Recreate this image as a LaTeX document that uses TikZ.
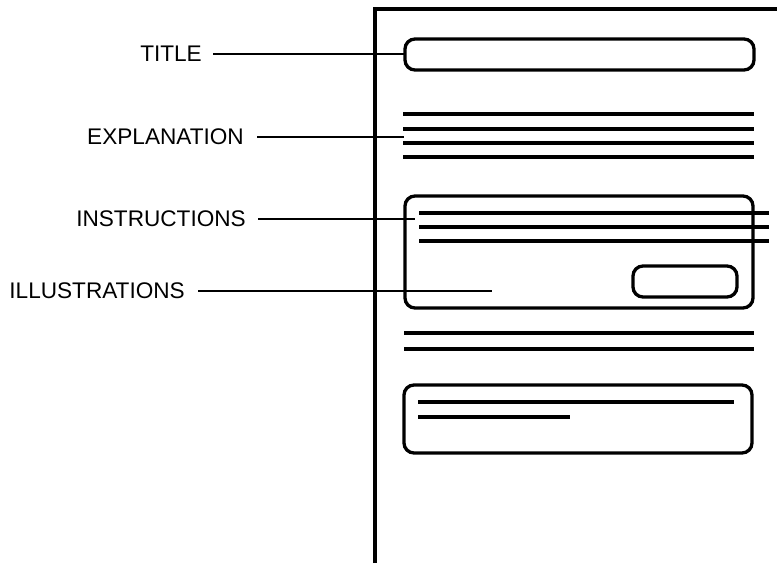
\documentclass[tikz,border=0pt]{standalone}
\usepackage{fontspec}
\setmainfont{Liberation Sans}
\begin{document}
\begin{tikzpicture}[x=1pt,y=-1pt,
  lbl/.style={anchor=east,inner sep=0pt,font=\fontsize{22.6}{24}\selectfont},
  leader/.style={line width=2.2pt},
  heavy/.style={line width=3.6pt},
  rbox/.style={line width=3.3pt,rounded corners=10pt}]
\useasboundingbox (0,0) rectangle (777,563);
% page outline
\draw[line width=3.3pt] (375,563) -- (375,9) -- (777,9);
% title box
\draw[rbox] (405,39) rectangle (754,70);
% explanation lines
\foreach \y in {114,129,143,157} \draw[heavy] (403,\y) -- (754,\y);
% instructions box
\draw[rbox] (405,196) rectangle (753,308);
\foreach \y in {213,227,241} \draw[heavy] (419,\y) -- (769,\y);
\draw[rbox] (633,266) rectangle (737,297);
% two lines
\foreach \y in {333,349} \draw[heavy] (404,\y) -- (754,\y);
% bottom box
\draw[rbox] (404,385) rectangle (752,453);
\draw[heavy] (418,402) -- (734,402);
\draw[heavy] (418,417) -- (570,417);
% labels
\node[lbl] (title) at (202,54) {TITLE};
\node[lbl] (expl) at (244,137) {EXPLANATION};
\node[lbl] (instr) at (246,219) {INSTRUCTIONS};
\node[lbl] (illus) at (185,291) {ILLUSTRATIONS};
\coordinate (ctitle) at (405,54);
\coordinate (cexpl) at (404,137);
\coordinate (cinstr) at (415,219);
\coordinate (cillus) at (492,291);
\draw[leader] ([xshift=11pt]title.east) -- (ctitle);
\draw[leader] ([xshift=13pt]expl.east) -- (cexpl);
\draw[leader] ([xshift=12pt]instr.east) -- (cinstr);
\draw[leader] ([xshift=13pt]illus.east) -- (cillus);
\end{tikzpicture}
\end{document}
